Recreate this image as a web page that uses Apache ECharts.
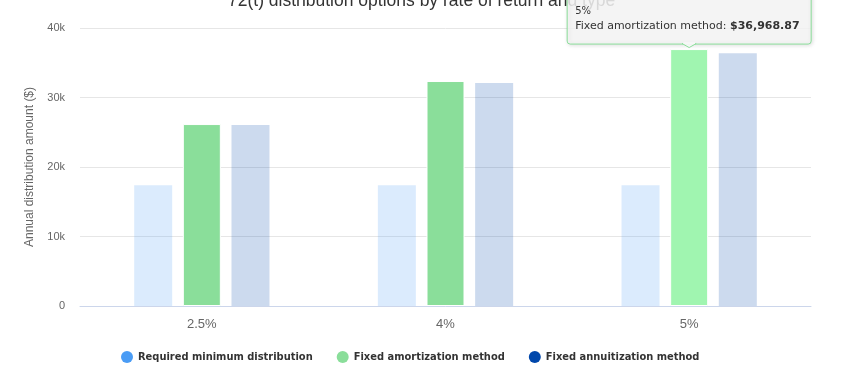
<!DOCTYPE html>
<html>
<head>
<meta charset="utf-8">
<script src="https://cdn.jsdelivr.net/npm/echarts@6/dist/echarts.min.js"></script>
<style>
html,body{margin:0;padding:0;background:#fff;}
#chart{width:850px;height:378px;}
</style>
</head>
<body>
<div id="chart"></div>
<script>
// ---- data ----
var categories = ['2.5%', '4%', '5%'];
var seriesNames = ['Required minimum distribution', 'Fixed amortization method', 'Fixed annuitization method'];
var rmdValues = [17390, 17390, 17390];
var amortValues = [26180, 32370, 36968.87];
var annuitValues = [26030, 32090, 36380];
var yTickLabels = ['0', '10k', '20k', '30k', '40k'];
var titleText = '72(t) distribution options by rate of return and type';
var yAxisTitle = 'Annual distribution amount ($)';
var tipCategoryIndex = 2;

// ---- style ----
var colors = ['#4a9cf5', '#8ade9a', '#0047ab'];
var hoverGreen = '#a0f5b0';

var chart = echarts.init(document.getElementById('chart'), null, {renderer: 'canvas'});

function barSeries(i, values) {
  var blurred = i !== 1;
  return {
    name: seriesNames[i],
    type: 'bar',
    barWidth: 38,
    barGap: '28%',
    data: values.map(function (v, j) {
      var item = {value: v};
      if (i === 1 && j === tipCategoryIndex) item.itemStyle = {color: hoverGreen};
      return item;
    }),
    itemStyle: {
      color: colors[i],
      opacity: blurred ? 0.2 : 1,
      borderColor: '#ffffff',
      borderWidth: blurred ? 0 : 1
    },
    emphasis: {disabled: true}
  };
}

var option = {
  animation: false,
  color: colors,
  title: {
    text: titleText,
    left: 223,
    top: -13,
    z: 1,
    textStyle: {fontFamily: 'Liberation Sans', fontSize: 17.5, fontWeight: 'normal', color: '#333333'}
  },
  grid: {left: 80, right: 39, top: 28, bottom: 72, containLabel: false},
  legend: {
    bottom: 10,
    left: 116,
    icon: 'circle',
    itemWidth: 12,
    itemHeight: 12,
    itemGap: 24,
    data: seriesNames.map(function (n, i) {
      return {name: n, itemStyle: {color: colors[i], opacity: 1, borderWidth: 0}};
    }),
    textStyle: {fontFamily: 'DejaVu Sans Condensed', fontSize: 11, fontWeight: 'bold', color: '#333333'}
  },
  xAxis: {
    type: 'category',
    data: categories,
    axisLine: {lineStyle: {color: '#ccd6eb'}},
    axisTick: {show: false},
    axisLabel: {margin: 12, fontFamily: 'Liberation Sans', fontSize: 13, color: '#666666'}
  },
  yAxis: {
    type: 'value',
    min: 0,
    max: 40000,
    interval: 10000,
    name: yAxisTitle,
    nameLocation: 'middle',
    nameGap: 44,
    nameTextStyle: {fontFamily: 'Liberation Sans', fontSize: 12, color: '#666666'},
    axisLine: {show: false},
    axisTick: {show: false},
    splitLine: {lineStyle: {color: '#e6e6e6'}},
    axisLabel: {
      margin: 15,
      fontFamily: 'Liberation Sans',
      fontSize: 11,
      color: '#666666',
      formatter: function (v) { return yTickLabels[Math.round(v / 10000)]; }
    }
  },
  series: [
    barSeries(0, rmdValues),
    barSeries(1, amortValues),
    barSeries(2, annuitValues)
  ]
};
chart.setOption(option);

// ---- tooltip annotation for the hovered point ----
var pt = chart.convertToPixel({seriesIndex: 1}, [tipCategoryIndex, amortValues[tipCategoryIndex]]);
var cx = pt[0], cy = pt[1];
var boxW = 244, boxBottom = cy - 5, boxTop = -10;
var boxLeft = Math.min(cx - boxW / 2, 812 - boxW);
var valueStr = '$' + amortValues[tipCategoryIndex].toLocaleString('en-US', {minimumFractionDigits: 2, maximumFractionDigits: 2});

chart.setOption({
  graphic: [
    {
      type: 'rect', z: 100, zlevel: 0,
      shape: {x: boxLeft, y: boxTop, width: boxW, height: boxBottom - boxTop, r: 3},
      style: {fill: 'rgba(247,247,247,0.85)', stroke: colors[1], lineWidth: 1,
              shadowBlur: 4, shadowColor: 'rgba(0,0,0,0.15)', shadowOffsetX: 1, shadowOffsetY: 1}
    },
    {
      type: 'polygon', z: 101,
      shape: {points: [[cx - 7, boxBottom - 0.5], [cx, cy - 1.5], [cx + 7, boxBottom - 0.5]]},
      style: {fill: 'rgba(247,247,247,1)', stroke: colors[1], lineWidth: 1}
    },
    {
      type: 'rect', z: 102,
      shape: {x: cx - 6, y: boxBottom - 2, width: 12, height: 2},
      style: {fill: 'rgba(247,247,247,1)'}
    },
    {
      type: 'text', z: 103,
      style: {x: boxLeft + 8, y: 11, text: categories[tipCategoryIndex], fontFamily: 'DejaVu Sans',
              fontSize: 10, fill: '#333333', verticalAlign: 'middle'}
    },
    {
      type: 'text', z: 103,
      style: {
        x: boxLeft + 8, y: 26, verticalAlign: 'middle',
        text: '{n|' + seriesNames[1] + ': }{v|' + valueStr + '}',
        rich: {
          n: {fontFamily: 'DejaVu Sans', fontSize: 11, fill: '#333333'},
          v: {fontFamily: 'DejaVu Sans', fontSize: 11, fontWeight: 'bold', fill: '#333333'}
        }
      }
    }
  ]
});
</script>
</body>
</html>
